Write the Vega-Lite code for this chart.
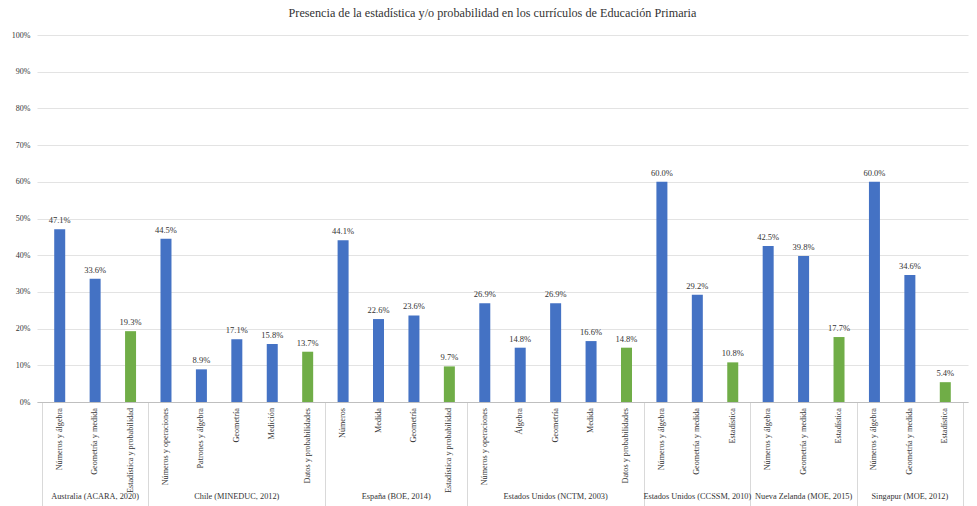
{
  "$schema": "https://vega.github.io/schema/vega-lite/v6.json",
  "autosize": {"type": "none"},
  "padding": {"left": 37, "top": 35, "right": 9, "bottom": 104},
  "width": 931,
  "height": 367,
  "title": {
    "text": "Presencia de la estadística y/o probabilidad en los currículos de Educación Primaria",
    "font": "Liberation Serif",
    "fontSize": 12.2,
    "fontWeight": "normal",
    "color": "#333333",
    "offset": 12,
    "dx": -10
  },
  "data": {
    "values": [
      {"grupo": "Australia (ACARA, 2020)", "categoria": "Números y álgebra", "valor": 0.471, "tipo": "otro", "indice": 0},
      {"grupo": "Australia (ACARA, 2020)", "categoria": "Geometría y medida", "valor": 0.336, "tipo": "otro", "indice": 1},
      {"grupo": "Australia (ACARA, 2020)", "categoria": "Estadística y probabilidad", "valor": 0.193, "tipo": "estadistica", "indice": 2},
      {"grupo": "Chile (MINEDUC, 2012)", "categoria": "Números y operaciones", "valor": 0.445, "tipo": "otro", "indice": 3},
      {"grupo": "Chile (MINEDUC, 2012)", "categoria": "Patrones y álgebra", "valor": 0.089, "tipo": "otro", "indice": 4},
      {"grupo": "Chile (MINEDUC, 2012)", "categoria": "Geometría", "valor": 0.171, "tipo": "otro", "indice": 5},
      {"grupo": "Chile (MINEDUC, 2012)", "categoria": "Medición", "valor": 0.158, "tipo": "otro", "indice": 6},
      {"grupo": "Chile (MINEDUC, 2012)", "categoria": "Datos y probabilidades", "valor": 0.137, "tipo": "estadistica", "indice": 7},
      {"grupo": "España (BOE, 2014)", "categoria": "Números", "valor": 0.441, "tipo": "otro", "indice": 8},
      {"grupo": "España (BOE, 2014)", "categoria": "Medida", "valor": 0.226, "tipo": "otro", "indice": 9},
      {"grupo": "España (BOE, 2014)", "categoria": "Geometría", "valor": 0.236, "tipo": "otro", "indice": 10},
      {"grupo": "España (BOE, 2014)", "categoria": "Estadística y probabilidad", "valor": 0.097, "tipo": "estadistica", "indice": 11},
      {"grupo": "Estados Unidos (NCTM, 2003)", "categoria": "Números y operaciones", "valor": 0.269, "tipo": "otro", "indice": 12},
      {"grupo": "Estados Unidos (NCTM, 2003)", "categoria": "Álgebra", "valor": 0.148, "tipo": "otro", "indice": 13},
      {"grupo": "Estados Unidos (NCTM, 2003)", "categoria": "Geometría", "valor": 0.269, "tipo": "otro", "indice": 14},
      {"grupo": "Estados Unidos (NCTM, 2003)", "categoria": "Medida", "valor": 0.166, "tipo": "otro", "indice": 15},
      {"grupo": "Estados Unidos (NCTM, 2003)", "categoria": "Datos y probabilidades", "valor": 0.148, "tipo": "estadistica", "indice": 16},
      {"grupo": "Estados Unidos (CCSSM, 2010)", "categoria": "Números y álgebra", "valor": 0.600, "tipo": "otro", "indice": 17},
      {"grupo": "Estados Unidos (CCSSM, 2010)", "categoria": "Geometría y medida", "valor": 0.292, "tipo": "otro", "indice": 18},
      {"grupo": "Estados Unidos (CCSSM, 2010)", "categoria": "Estadística", "valor": 0.108, "tipo": "estadistica", "indice": 19},
      {"grupo": "Nueva Zelanda (MOE, 2015)", "categoria": "Números y álgebra", "valor": 0.425, "tipo": "otro", "indice": 20},
      {"grupo": "Nueva Zelanda (MOE, 2015)", "categoria": "Geometría y medida", "valor": 0.398, "tipo": "otro", "indice": 21},
      {"grupo": "Nueva Zelanda (MOE, 2015)", "categoria": "Estadística", "valor": 0.177, "tipo": "estadistica", "indice": 22},
      {"grupo": "Singapur (MOE, 2012)", "categoria": "Números y álgebra", "valor": 0.600, "tipo": "otro", "indice": 23},
      {"grupo": "Singapur (MOE, 2012)", "categoria": "Geometría y medida", "valor": 0.346, "tipo": "otro", "indice": 24},
      {"grupo": "Singapur (MOE, 2012)", "categoria": "Estadística", "valor": 0.054, "tipo": "estadistica", "indice": 25}
    ]
  },
  "encoding": {
    "x": {
      "field": "indice",
      "type": "quantitative",
      "scale": {"domain": [-0.5, 25.5], "nice": false, "zero": false},
      "axis": {
        "title": null,
        "values": [-0.5, 2.5, 7.5, 11.5, 16.5, 19.5, 22.5, 25.5],
        "labels": false,
        "domain": true,
        "domainColor": "#bfbfbf",
        "grid": false,
        "ticks": true,
        "tickSize": 104,
        "tickColor": "#d9d9d9"
      }
    }
  },
  "layer": [
    {
      "mark": {"type": "bar", "width": 11},
      "encoding": {
        "y": {
          "field": "valor",
          "type": "quantitative",
          "scale": {"domain": [0, 1]},
          "axis": {
            "title": null,
            "format": "%",
            "values": [0, 0.1, 0.2, 0.3, 0.4, 0.5, 0.6, 0.7, 0.8, 0.9, 1],
            "gridColor": "#e3e3e3",
            "domain": false,
            "ticks": false,
            "labelPadding": 7,
            "labelFontSize": 8
          }
        },
        "color": {
          "field": "tipo",
          "type": "nominal",
          "scale": {"domain": ["otro", "estadistica"], "range": ["#4472C4", "#70AD47"]},
          "legend": null
        }
      }
    },
    {
      "mark": {"type": "text", "baseline": "bottom", "dy": -4, "fontSize": 8.5, "color": "#333333"},
      "encoding": {
        "y": {"field": "valor", "type": "quantitative", "axis": null},
        "text": {"field": "valor", "type": "quantitative", "format": ".1%"}
      }
    },
    {
      "mark": {"type": "text", "angle": 270, "align": "right", "baseline": "middle", "dx": -6, "fontSize": 8.2, "color": "#333333"},
      "encoding": {
        "y": {"datum": 0, "type": "quantitative", "axis": null},
        "text": {"field": "categoria", "type": "nominal"}
      }
    },
    {
      "mark": {"type": "text", "baseline": "middle", "fontSize": 8.3, "color": "#333333"},
      "encoding": {
        "x": {"aggregate": "mean", "field": "indice", "type": "quantitative"},
        "y": {"datum": -0.259, "type": "quantitative", "axis": null},
        "detail": {"field": "grupo", "type": "nominal"},
        "text": {"field": "grupo", "type": "nominal"}
      }
    }
  ],
  "resolve": {"axis": {"y": "independent"}},
  "config": {
    "font": "Liberation Serif",
    "view": {"stroke": null},
    "axis": {"labelFont": "Liberation Serif", "labelColor": "#333333"},
    "text": {"font": "Liberation Serif"}
  }
}
